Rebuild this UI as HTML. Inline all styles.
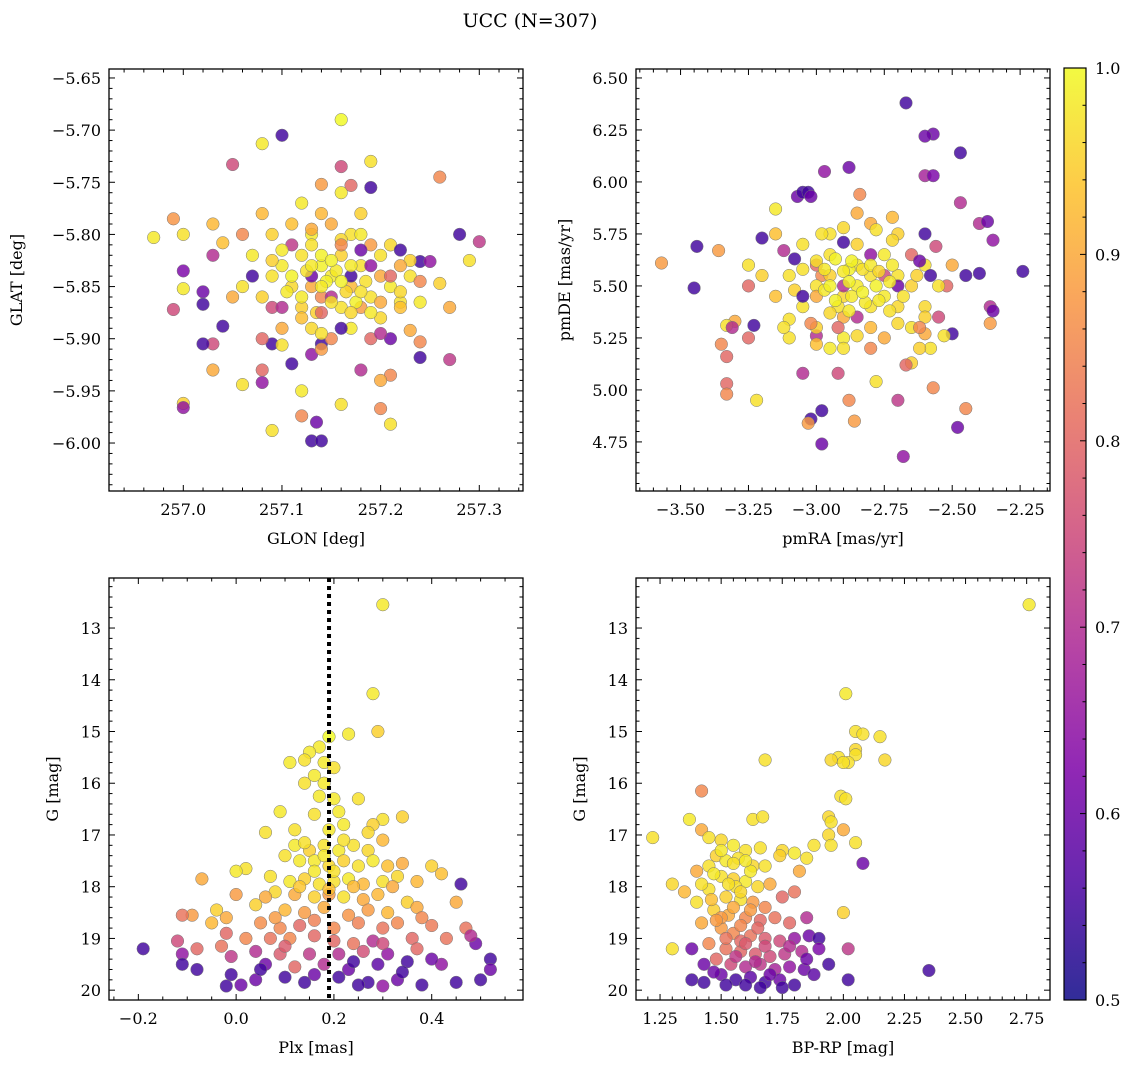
<!DOCTYPE html>
<html><head><meta charset="utf-8"><style>
body{margin:0;background:#fff;}
svg text{font-family:"DejaVu Serif","Liberation Serif",serif;fill:#000;}
</style></head><body>
<svg id="fig" width="1136" height="1068" xmlns="http://www.w3.org/2000/svg">
<defs><linearGradient id="plasma" x1="0" y1="1" x2="0" y2="0">
<stop offset="0" stop-color="#0d0887"/><stop offset="0.125" stop-color="#4c02a1"/><stop offset="0.25" stop-color="#7e03a8"/><stop offset="0.375" stop-color="#a92395"/><stop offset="0.5" stop-color="#cc4778"/><stop offset="0.625" stop-color="#e66c5c"/><stop offset="0.75" stop-color="#f89540"/><stop offset="0.875" stop-color="#fdc328"/><stop offset="1" stop-color="#f0f921"/></linearGradient></defs>
<text x="530" y="27" font-size="19" text-anchor="middle">UCC (N=307)</text>
</svg>
<script>
const posGlonGlatProb=[[257.16,-5.69,1],[257.10,-5.705,.55],[257.08,-5.713,.98],[257.05,-5.733,.75],[257.16,-5.735,.75],[257.19,-5.73,.97],[257.26,-5.745,.85],[257.19,-5.755,.55],[257.14,-5.752,.88],[257.17,-5.753,.8],[256.97,-5.803,.98],[256.99,-5.785,.87],[257.0,-5.80,.97],[257.28,-5.80,.55],[257.30,-5.807,.72],[257.29,-5.825,.97],[257.0,-5.835,.62],[257.0,-5.852,.98],[256.99,-5.872,.75],[257.03,-5.79,.92],[257.03,-5.82,.7],[257.04,-5.808,.93],[257.02,-5.855,.6],[257.02,-5.867,.55],[257.04,-5.888,.55],[257.03,-5.905,.75],[257.02,-5.905,.55],[257.03,-5.93,.9],[257.06,-5.944,.97],[257.08,-5.93,.8],[257.08,-5.942,.65],[257.09,-5.988,.97],[257.0,-5.962,.95],[257.0,-5.966,.65],[257.12,-5.974,.85],[257.13,-5.998,.55],[257.14,-5.998,.55],[257.135,-5.98,.6],[257.16,-5.963,.97],[257.2,-5.967,.85],[257.21,-5.982,.97],[257.21,-5.935,.85],[257.2,-5.94,.9],[257.18,-5.93,.7],[257.24,-5.918,.55],[257.27,-5.92,.72],[257.27,-5.87,.9],[257.26,-5.847,.95],[257.24,-5.826,.55],[257.23,-5.825,.95],[257.25,-5.826,.65],[257.22,-5.865,.97],[257.24,-5.865,.98],[257.23,-5.892,.9],[257.24,-5.903,.85],[257.11,-5.924,.55],[257.09,-5.905,.55],[257.1,-5.906,.97],[257.13,-5.915,.65],[257.14,-5.905,.55],[257.12,-5.95,.98],[257.14,-5.91,.88],
[257.10,-5.83,.98],[257.12,-5.82,.97],[257.14,-5.83,.99],[257.16,-5.82,.95],[257.18,-5.83,.97],[257.20,-5.84,.9],[257.11,-5.85,.96],[257.13,-5.85,.9],[257.15,-5.84,.98],[257.17,-5.85,.92],[257.19,-5.86,.97],[257.21,-5.85,.98],[257.12,-5.87,.95],[257.14,-5.86,.85],[257.16,-5.87,.97],[257.18,-5.87,.88],[257.20,-5.88,.96],[257.22,-5.87,.93],[257.09,-5.84,.97],[257.08,-5.86,.95],[257.07,-5.82,.98],[257.09,-5.80,.95],[257.11,-5.79,.93],[257.13,-5.80,.98],[257.15,-5.79,.9],[257.17,-5.80,.97],[257.19,-5.81,.88],[257.21,-5.81,.96],[257.12,-5.77,.98],[257.14,-5.78,.92],[257.16,-5.76,.98],[257.18,-5.78,.95],[257.10,-5.89,.9],[257.13,-5.89,.96],[257.15,-5.90,.85],[257.17,-5.89,.98],[257.19,-5.90,.8],[257.11,-5.81,.72],[257.15,-5.86,.7],[257.17,-5.84,.55],[257.13,-5.84,.6],[257.19,-5.83,.65],[257.09,-5.87,.75],[257.21,-5.90,.6],[257.16,-5.89,.55],[257.07,-5.84,.55],[257.06,-5.85,.97],[257.05,-5.86,.9],[257.22,-5.83,.9],[257.23,-5.84,.97],[257.14,-5.82,.99],[257.155,-5.835,.98],[257.165,-5.855,.96],[257.125,-5.835,.97],[257.145,-5.845,.99],[257.185,-5.845,.97],[257.105,-5.855,.98],[257.135,-5.875,.95],[257.175,-5.865,.99],[257.08,-5.78,.92],[257.06,-5.80,.85],[257.08,-5.90,.8],
[257.13,-5.83,.98],[257.15,-5.825,.99],[257.17,-5.83,.98],[257.14,-5.85,.98],[257.16,-5.845,.99],[257.18,-5.855,.97],[257.12,-5.86,.98],[257.15,-5.865,.97],[257.17,-5.875,.96],[257.19,-5.875,.98],[257.11,-5.84,.99],[257.2,-5.82,.97],[257.1,-5.815,.98],[257.13,-5.81,.97],[257.16,-5.805,.96],[257.18,-5.8,.98],[257.2,-5.865,.9],[257.12,-5.88,.93],[257.14,-5.895,.97],[257.22,-5.855,.96],[257.09,-5.825,.95],[257.24,-5.845,.85],[257.21,-5.84,.8],[257.1,-5.87,.7],[257.14,-5.875,.8],[257.16,-5.81,.85],[257.13,-5.795,.9],[257.18,-5.815,.6],[257.2,-5.895,.7],[257.22,-5.815,.55]];
const pmRaDeProb=[[-2.67,6.38,.55],[-2.57,6.23,.6],[-2.6,6.22,.6],[-2.47,6.14,.55],[-2.97,6.05,.65],[-2.88,6.07,.6],[-2.6,6.03,.68],[-2.57,6.03,.62],[-3.07,5.93,.6],[-3.05,5.95,.55],[-3.03,5.95,.55],[-3.02,5.93,.6],[-3.15,5.87,.98],[-2.84,5.94,.85],[-2.47,5.9,.7],[-2.4,5.8,.7],[-2.37,5.81,.6],[-2.35,5.72,.65],[-2.24,5.57,.55],[-2.4,5.56,.55],[-3.57,5.61,.88],[-3.44,5.69,.55],[-3.45,5.49,.55],[-3.36,5.67,.88],[-3.25,5.5,.8],[-3.3,5.33,.9],[-3.33,5.31,.97],[-3.31,5.3,.7],[-3.35,5.22,.85],[-3.33,5.16,.8],[-3.23,5.31,.55],[-3.25,5.25,.8],[-3.33,5.03,.8],[-3.33,4.98,.85],[-3.22,4.95,.97],[-3.02,4.86,.55],[-3.03,4.84,.88],[-2.98,4.9,.55],[-2.98,4.74,.6],[-2.88,4.95,.85],[-2.86,4.85,.88],[-2.78,5.04,.97],[-2.68,4.68,.65],[-2.7,4.95,.72],[-2.48,4.82,.6],[-2.45,4.91,.85],[-2.36,5.4,.7],[-2.35,5.38,.6],[-2.36,5.32,.88],[-2.57,5.01,.85],[-2.58,5.2,.97],[-2.6,5.27,.9],[-2.5,5.27,.55],[-2.65,5.13,.95],[-2.67,5.12,.8],[-2.92,5.08,.75],[-3.05,5.08,.7],[-3.0,5.26,.7],[-3.1,5.34,.97],[-2.98,5.55,.85],[-2.45,5.55,.55],[-2.52,5.5,.8],[-3.12,5.67,.7],[-3.2,5.73,.55],[-2.6,5.75,.55],[-2.56,5.69,.75],
[-2.85,5.5,.98],[-2.8,5.55,.97],[-2.9,5.45,.96],[-2.75,5.45,.98],[-2.95,5.55,.95],[-2.7,5.55,.97],[-2.85,5.6,.98],[-2.8,5.4,.97],[-2.9,5.35,.9],[-2.7,5.4,.96],[-3.0,5.5,.97],[-2.65,5.5,.95],[-2.75,5.65,.98],[-2.95,5.65,.97],[-2.85,5.7,.95],[-2.8,5.3,.92],[-3.05,5.4,.97],[-2.6,5.6,.97],[-2.6,5.4,.96],[-2.9,5.25,.98],[-2.75,5.25,.9],[-2.95,5.75,.97],[-2.8,5.8,.9],[-2.7,5.75,.95],[-3.1,5.55,.97],[-3.15,5.45,.93],[-2.55,5.5,.97],[-2.5,5.6,.9],[-3.05,5.7,.97],[-3.0,5.3,.95],[-2.85,5.85,.9],[-2.65,5.3,.97],[-2.75,5.55,.75],[-2.9,5.5,.7],[-2.8,5.65,.65],[-2.7,5.5,.6],[-3.0,5.6,.8],[-2.85,5.35,.7],[-2.65,5.65,.8],[-2.55,5.35,.75],[-3.1,5.25,.97],[-3.2,5.55,.95],[-3.15,5.75,.93],[-2.78,5.5,.99],[-2.88,5.58,.99],[-2.82,5.42,.98],[-2.72,5.6,.98],[-2.92,5.4,.97],[-3.0,5.45,.9],[-2.62,5.2,.95],[-2.95,5.2,.98],[-2.8,5.2,.85],[-3.25,5.6,.97],
[-3.0,5.62,.97],[-2.97,5.58,.98],[-2.93,5.63,.99],[-2.9,5.57,.98],[-2.87,5.62,.99],[-2.83,5.58,.97],[-2.8,5.6,.98],[-2.77,5.57,.96],[-2.73,5.52,.98],[-2.97,5.48,.98],[-2.93,5.43,.99],[-2.87,5.45,.98],[-2.83,5.47,.99],[-2.77,5.43,.98],[-2.73,5.38,.97],[-2.95,5.37,.96],[-2.88,5.38,.98],[-3.05,5.58,.97],[-3.08,5.48,.95],[-2.98,5.75,.97],[-2.9,5.78,.96],[-2.78,5.77,.97],[-2.72,5.72,.96],[-2.68,5.45,.97],[-2.63,5.55,.95],[-2.9,5.2,.97],[-2.85,5.26,.96],[-3.0,5.22,.93],[-2.7,5.32,.96],[-2.95,5.5,.99],[-2.88,5.52,.99],[-3.12,5.3,.97],[-2.6,5.35,.95],[-2.53,5.26,.97],[-2.72,5.83,.92],[-2.62,5.3,.85],[-3.02,5.32,.85],[-2.92,5.3,.8],[-2.62,5.62,.6],[-2.58,5.55,.55],[-3.05,5.45,.55],[-2.9,5.71,.55],[-3.08,5.63,.55]];
const plxGProb=[[0.30,12.55,.98],[0.28,14.27,.98],[0.29,15.0,.95],[0.23,15.05,.98],[0.19,15.1,1],[0.17,15.3,.98],[0.15,15.4,.98],[0.14,15.55,.97],[0.11,15.6,.98],[0.18,15.6,.98],[0.2,15.7,.97],[0.16,15.85,.98],[0.18,16.0,.98],[0.14,16.0,.97],[0.17,16.25,.98],[0.2,16.3,.98],[0.09,16.55,.98],[0.25,16.3,.97],[0.34,16.65,.95],[0.3,16.7,.97],[0.28,16.8,.95],[0.22,16.8,.98],[0.19,16.9,.98],[0.06,16.95,.97],[0.12,17.2,.98],[0.15,17.3,.95],[0.18,17.2,.97],[0.21,17.3,.98],[0.24,17.2,.97],[0.27,17.3,.96],[0.30,17.1,.92],[0.1,17.4,.97],[0.13,17.5,.98],[0.16,17.5,.98],[0.19,17.6,.96],[0.22,17.5,.95],[0.25,17.6,.97],[0.28,17.5,.98],[0.31,17.6,.93],[0.34,17.55,.9],[0.4,17.6,.95],[0.02,17.65,.97],[0.0,17.7,.98],[0.07,17.8,.97],[0.11,17.9,.98],[0.14,17.85,.95],[0.17,17.95,.97],[0.2,17.9,.97],[0.23,17.85,.98],[0.26,17.95,.92],[0.3,17.9,.97],[0.33,17.8,.96],[0.37,17.9,.92],[0.42,17.75,.93],[-0.07,17.85,.9],[0.08,18.1,.96],[0.12,18.15,.9],[0.16,18.2,.95],[0.19,18.15,.88],[0.22,18.2,.97],[0.26,18.25,.9],[0.29,18.15,.92],[0.35,18.3,.95],[0.45,18.3,.9],[0.0,18.15,.88],[0.04,18.35,.95],[0.1,18.45,.92],[0.14,18.5,.88],[0.18,18.4,.9],[0.23,18.55,.87],[0.27,18.45,.88],[0.31,18.5,.92],[0.37,18.4,.9],[-0.04,18.45,.95],[-0.09,18.55,.88],[-0.11,18.55,.82],[-0.05,18.7,.92],[0.05,18.7,.86],[0.09,18.8,.85],[0.13,18.75,.8],[0.2,18.8,.85],[0.25,18.7,.84],[0.3,18.8,.82],[0.33,18.7,.85],[0.4,18.75,.83],[0.47,18.8,.82],[-0.02,18.9,.8],[0.02,19.0,.85],[0.07,19.0,.82],[0.11,19.0,.85],[0.16,18.95,.8],[0.24,19.1,.82],[0.28,19.05,.7],[0.36,19.0,.8],[0.43,19.0,.82],[-0.12,19.05,.75],[-0.08,19.2,.8],[-0.03,19.15,.82],[0.04,19.25,.7],[0.09,19.3,.78],[0.15,19.3,.72],[0.21,19.3,.7],[0.26,19.25,.76],[0.31,19.3,.65],[0.37,19.2,.8],[0.49,19.1,.6],[-0.19,19.2,.55],[-0.11,19.3,.65],[-0.01,19.35,.72],[0.06,19.5,.6],[0.12,19.55,.8],[0.18,19.5,.7],[0.23,19.6,.6],[0.29,19.5,.58],[0.35,19.45,.55],[0.42,19.5,.65],[0.52,19.4,.55],[-0.11,19.5,.55],[-0.08,19.6,.55],[-0.01,19.7,.55],[0.04,19.8,.6],[0.1,19.75,.55],[0.16,19.7,.6],[0.21,19.75,.55],[0.27,19.85,.55],[0.33,19.8,.6],[0.38,19.9,.55],[0.45,19.85,.55],[0.5,19.8,.55],[-0.02,19.92,.55],[0.01,19.9,.6],[0.14,19.85,.55],[0.25,19.9,.55],[0.3,19.92,.65],[0.46,17.95,.55],[0.52,19.6,.6],[0.48,18.95,.7],
[0.18,17.4,.98],[0.2,17.7,.97],[0.16,17.7,.98],[0.22,17.1,.97],[0.14,17.15,.97],[0.19,18.05,.93],[0.24,18.0,.92],[0.13,18.0,.94],[0.06,18.2,.9],[0.32,18.0,.9],[0.21,16.55,.98],[0.16,16.6,.97],[0.27,16.95,.96],[0.12,16.9,.97],[0.38,18.6,.85],[0.08,18.6,.88],[0.16,18.65,.84],[-0.02,18.6,.9],[0.3,19.1,.75],[0.1,19.15,.78],[0.2,19.05,.8],[0.4,19.4,.6],[0.05,19.6,.55],[0.24,19.45,.55],[0.34,19.65,.55]];
const colorGProb=[[2.76,12.55,.98],[2.01,14.27,.98],[2.05,15.0,.97],[2.08,15.05,.97],[2.15,15.1,.97],[2.05,15.35,.96],[2.05,15.45,.97],[1.98,15.5,.97],[2.02,15.6,.97],[2.17,15.55,.96],[2.0,15.6,.97],[1.68,15.55,.97],[1.95,15.55,.96],[1.42,16.15,.85],[1.99,16.25,.97],[2.01,16.3,.97],[1.63,16.7,.97],[1.67,16.65,.97],[1.94,16.65,.96],[1.95,16.75,.97],[1.37,16.7,.98],[1.22,17.05,.97],[2.0,16.9,.9],[1.94,17.0,.96],[2.05,17.15,.97],[1.88,17.2,.97],[1.8,17.35,.98],[1.75,17.3,.96],[1.85,17.45,.97],[1.74,17.4,.95],[1.95,17.2,.97],[1.82,17.7,.9],[2.08,17.55,.6],[1.42,16.9,.9],[1.45,17.05,.97],[1.5,17.1,.96],[1.55,17.2,.98],[1.6,17.3,.97],[1.48,17.4,.95],[1.52,17.5,.98],[1.57,17.45,.97],[1.63,17.6,.96],[1.68,17.6,.97],[1.45,17.6,.97],[1.4,17.7,.9],[1.5,17.8,.97],[1.55,17.85,.95],[1.6,17.9,.98],[1.65,18.0,.96],[1.7,17.95,.9],[1.3,17.95,.96],[1.35,18.1,.92],[1.45,18.05,.97],[1.52,18.2,.95],[1.58,18.25,.97],[1.63,18.3,.88],[1.68,18.4,.85],[1.75,18.2,.8],[1.8,18.1,.82],[1.4,18.3,.97],[1.47,18.45,.95],[1.53,18.55,.9],[1.6,18.6,.85],[1.66,18.65,.8],[1.72,18.6,.82],[1.78,18.7,.8],[1.85,18.6,.7],[1.42,18.7,.9],[1.5,18.8,.88],[1.55,18.9,.85],[1.62,18.95,.82],[1.68,19.0,.78],[1.74,19.05,.75],[1.8,19.0,.65],[1.86,18.95,.6],[1.9,19.0,.55],[1.45,19.1,.85],[1.52,19.2,.82],[1.58,19.25,.8],[1.64,19.3,.78],[1.7,19.35,.75],[1.76,19.3,.72],[1.83,19.25,.7],[1.9,19.2,.62],[1.38,19.2,.6],[1.3,19.2,.97],[2.0,18.5,.95],[2.02,19.2,.72],[1.48,19.4,.8],[1.54,19.5,.75],[1.6,19.55,.7],[1.66,19.5,.72],[1.72,19.6,.68],[1.78,19.55,.65],[1.84,19.6,.6],[1.94,19.5,.55],[1.43,19.5,.6],[1.38,19.8,.55],[1.43,19.85,.55],[1.5,19.7,.6],[1.56,19.8,.55],[1.62,19.75,.58],[1.68,19.85,.55],[1.74,19.8,.6],[1.8,19.9,.55],[1.88,19.7,.58],[2.02,19.8,.55],[2.35,19.62,.55],[1.52,19.9,.55],[1.66,19.95,.55],[1.56,18.0,.97],[1.62,17.7,.98],[1.5,18.6,.88],[1.58,19.05,.8],
[1.5,17.3,.98],[1.55,17.55,.97],[1.6,17.5,.98],[1.47,17.75,.98],[1.53,17.95,.97],[1.58,18.1,.96],[1.42,17.95,.97],[1.46,18.25,.93],[1.55,18.4,.9],[1.62,18.45,.88],[1.48,18.65,.88],[1.58,18.75,.85],[1.65,18.8,.8],[1.52,19.0,.82],[1.6,19.1,.78],[1.68,19.15,.75],[1.56,19.35,.72],[1.64,19.45,.7],[1.7,19.7,.6],[1.6,19.9,.55],[1.75,19.95,.55],[1.47,19.65,.6],[1.85,19.4,.6],[1.78,19.15,.7],[1.66,17.25,.97]];
const plxLine=0.19;
const cbTicks=[0.5,0.6,0.7,0.8,0.9,1.0];

const NS='http://www.w3.org/2000/svg';
const svg=document.getElementById('fig');
function el(t,a,p){const e=document.createElementNS(NS,t);for(const k in a)e.setAttribute(k,a[k]);(p||svg).appendChild(e);return e;}
const stops=[[13,8,135],[76,2,161],[126,3,168],[169,35,149],[204,71,120],[230,108,92],[248,149,64],[253,195,40],[240,249,33]];
function plasma(v){let t=(v-0.5)/0.5;t=Math.max(0,Math.min(1,t))*8;const i=Math.min(7,Math.floor(t)),f=t-i;const a=stops[i],b=stops[i+1];return `rgb(${a.map((x,k)=>Math.round(x+(b[k]-x)*f)).join(',')})`;}
function fmt(v,d){const s=Math.abs(v).toFixed(d);return (v<-1e-9?'\u2212':'')+s;}
function panel(o){
  const g=el('g',{});
  
  
  const X=v=>o.x0+(v-o.xmin)/(o.xmax-o.xmin)*(o.x1-o.x0);
  const Y=o.inv?(v=>o.y0+(v-o.ymin)/(o.ymax-o.ymin)*(o.y1-o.y0)):(v=>o.y1-(v-o.ymin)/(o.ymax-o.ymin)*(o.y1-o.y0));
  o.data.forEach(d=>{const c=el('circle',{cx:X(d[0]).toFixed(1),cy:Y(d[1]).toFixed(1),r:6.3,fill:plasma(d[2]),'fill-opacity':0.82,stroke:'#777','stroke-width':0.5},g);
    
    });
  if(o.vline!==undefined){const l=el('line',{x1:X(o.vline),x2:X(o.vline),y1:o.y0,y2:o.y1,stroke:'#000','stroke-width':4,'stroke-dasharray':'4 4'},g);
    
    }
  const f=el('rect',{x:o.x0,y:o.y0,width:o.x1-o.x0,height:o.y1-o.y0,fill:'none',stroke:'#000','stroke-width':1.3},g);
  
  
  for(let v=Math.ceil(o.xmin/o.xmi-1e-6)*o.xmi;v<=o.xmax+1e-9;v+=o.xmi){const px=X(v);const maj=Math.abs(v/o.xma-Math.round(v/o.xma))<1e-4;const L=maj?6:3.5;
    el('line',{x1:px,x2:px,y1:o.y1,y2:o.y1-L,stroke:'#000'},g);el('line',{x1:px,x2:px,y1:o.y0,y2:o.y0+L,stroke:'#000'},g);
    if(maj){const t=el('text',{x:px,y:o.y1+24,'font-size':16,'text-anchor':'middle'},g);t.textContent=fmt(v,o.xd);
      
      }}
  for(let v=Math.ceil(o.ymin/o.ymi-1e-6)*o.ymi;v<=o.ymax+1e-9;v+=o.ymi){const py=Y(v);const maj=Math.abs(v/o.yma-Math.round(v/o.yma))<1e-4;const L=maj?6:3.5;
    el('line',{y1:py,y2:py,x1:o.x0,x2:o.x0+L,stroke:'#000'},g);el('line',{y1:py,y2:py,x1:o.x1,x2:o.x1-L,stroke:'#000'},g);
    if(maj){const t=el('text',{x:o.x0-8,y:py+6,'font-size':16,'text-anchor':'end'},g);t.textContent=fmt(v,o.yd);
      
      }}
  const xl=el('text',{x:(o.x0+o.x1)/2,y:o.y1+53,'font-size':16,'text-anchor':'middle'},g);xl.textContent=o.xl;
  
  
  const yc=(o.y0+o.y1)/2;const yl=el('text',{x:o.ylx,y:yc,'font-size':16,'text-anchor':'middle',transform:`rotate(-90 ${o.ylx} ${yc})`},g);yl.textContent=o.yl;
  
  
}
panel({name:'glon-glat-panel',data:posGlonGlatProb,x0:109,x1:523,y0:69,y1:491,xmin:256.9247,xmax:257.3443,ymin:-6.046,ymax:-5.6414,xma:0.1,xmi:0.02,yma:0.05,ymi:0.01,xd:1,yd:2,xl:'GLON [deg]',yl:'GLAT [deg]',ylx:22});
panel({name:'proper-motion-panel',data:pmRaDeProb,x0:636,x1:1050,y0:69,y1:491,xmin:-3.664,xmax:-2.140,ymin:4.514,ymax:6.543,xma:0.25,xmi:0.05,yma:0.25,ymi:0.05,xd:2,yd:2,xl:'pmRA [mas/yr]',yl:'pmDE [mas/yr]',ylx:570});
panel({name:'plx-g-panel',data:plxGProb,x0:109,x1:523,y0:578,y1:1000,xmin:-0.26,xmax:0.5867,ymin:12.033,ymax:20.19,inv:true,xma:0.2,xmi:0.05,yma:1,ymi:0.2,xd:1,yd:0,xl:'Plx [mas]',yl:'G [mag]',ylx:58,vline:plxLine});
panel({name:'cmd-panel',data:colorGProb,x0:636,x1:1050,y0:578,y1:1000,xmin:1.1516,xmax:2.8455,ymin:12.033,ymax:20.19,inv:true,xma:0.25,xmi:0.05,yma:1,ymi:0.2,xd:2,yd:0,xl:'BP-RP [mag]',yl:'G [mag]',ylx:585});
const cb=el('g',{});


el('rect',{x:1064,y:68,width:22,height:932,fill:'url(#plasma)','fill-opacity':0.85},cb);
el('rect',{x:1064,y:68,width:22,height:932,fill:'none',stroke:'#000','stroke-width':1.2},cb);
const CY=v=>1000-(v-0.5)/0.5*932;
for(let v=0.5;v<=1.0001;v+=0.02){const py=CY(v);const maj=Math.abs(v*10-Math.round(v*10))<1e-4;
  el('line',{x1:1086,x2:1086-(maj?6:3.5),y1:py,y2:py,stroke:'#000'},cb);}
cbTicks.forEach(v=>{const t=el('text',{x:1095,y:CY(v)+6,'font-size':16},cb);t.textContent=v.toFixed(1);
  
  });
</script>
</body></html>
